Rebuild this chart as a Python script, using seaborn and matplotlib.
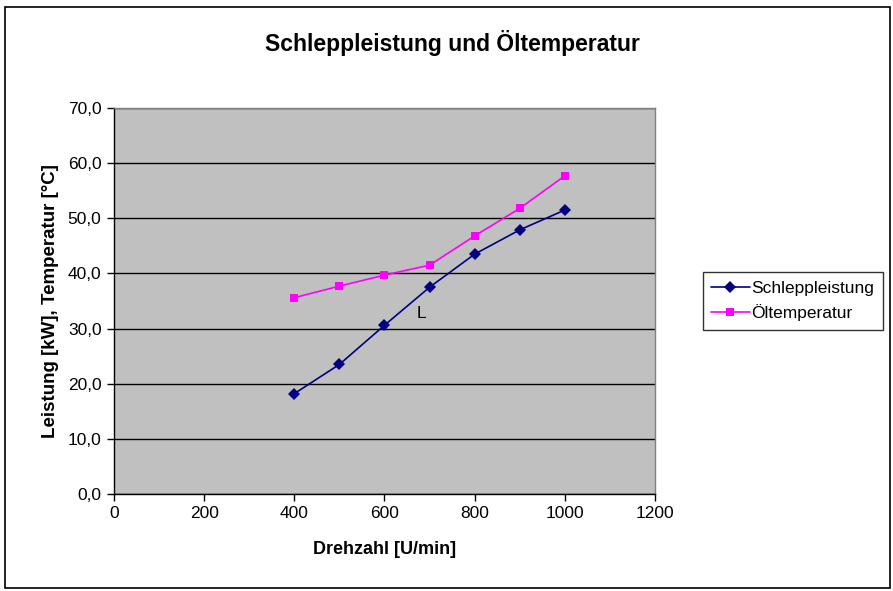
import matplotlib
matplotlib.use("Agg")
import matplotlib.pyplot as plt
import matplotlib.ticker as mticker
from matplotlib.patches import Rectangle
import seaborn as sns
import pandas as pd

drehzahl = [400, 500, 600, 700, 800, 900, 1000]
schleppleistung = [18.2, 23.5, 30.6, 37.5, 43.5, 47.9, 51.5]
oeltemperatur = [35.6, 37.7, 39.7, 41.5, 46.8, 51.8, 57.7]

df = pd.DataFrame({
    "Drehzahl": drehzahl * 2,
    "Wert": schleppleistung + oeltemperatur,
    "Serie": ["Schleppleistung"] * 7 + ["Öltemperatur"] * 7,
})

sns.set_style("white")
plt.rcParams["font.family"] = ["Liberation Sans", "DejaVu Sans"]
plt.rcParams["text.color"] = "black"
plt.rcParams["axes.labelcolor"] = "black"
plt.rcParams["xtick.color"] = "black"
plt.rcParams["ytick.color"] = "black"

fig = plt.figure(figsize=(8.93, 5.91), dpi=100)
fig.patch.set_facecolor("white")
# chart area border
fig.patches.append(Rectangle((5 / 893, 1 - 588 / 591), 885 / 893, 581 / 591,
                             transform=fig.transFigure, fill=False,
                             edgecolor="black", linewidth=1.2))

ax = fig.add_axes([114 / 893, 1 - 494 / 591, 541 / 893, 386 / 591])
ax.set_facecolor("#C0C0C0")

sns.lineplot(data=df, x="Drehzahl", y="Wert", hue="Serie", style="Serie",
             palette={"Schleppleistung": "#000080", "Öltemperatur": "#FF00FF"},
             markers={"Schleppleistung": "D", "Öltemperatur": "s"},
             dashes=False, markersize=6, markeredgewidth=0, linewidth=1.2,
             ax=ax, zorder=3)

ax.set_xlim(0, 1200)
ax.set_ylim(0, 70)
ax.xaxis.set_major_locator(mticker.MultipleLocator(200))
ax.yaxis.set_major_locator(mticker.MultipleLocator(10))
ax.yaxis.set_major_formatter(mticker.FuncFormatter(lambda v, p: f"{v:.1f}".replace(".", ",")))
ax.grid(axis="y", color="black", linewidth=1.0)
ax.set_axisbelow(True)
for side in ["top", "right"]:
    ax.spines[side].set_color("#808080")
    ax.spines[side].set_linewidth(1.0)
for side in ["left", "bottom"]:
    ax.spines[side].set_color("black")
    ax.spines[side].set_linewidth(1.0)
ax.tick_params(axis="both", direction="out", length=5, width=1, color="black",
               labelsize=12.5, pad=4, bottom=True, left=True)

ax.set_xlabel("Drehzahl [U/min]", fontsize=13, fontweight="bold", labelpad=14)
ax.set_ylabel("Leistung [kW], Temperatur [°C]", fontsize=13.5, fontweight="bold", labelpad=6)
fig.text(452 / 893, 1 - 43 / 591, "Schleppleistung und Öltemperatur",
         ha="center", va="center", fontsize=16.5, fontweight="bold")

ax.text(683, 32.8, "L", fontsize=12.5, ha="center", va="center")

handles, labels = ax.get_legend_handles_labels()
leg = ax.legend(handles, labels, loc="center left", bbox_to_anchor=(694 / 893, 1 - 301 / 591),
                bbox_transform=fig.transFigure, frameon=True, fancybox=False,
                edgecolor="black", fontsize=12.5, handlelength=2.2, handletextpad=0.1,
                borderpad=0.5, labelspacing=0.5)
leg.get_frame().set_linewidth(1.0)

fig.savefig("out.png", dpi=100)
